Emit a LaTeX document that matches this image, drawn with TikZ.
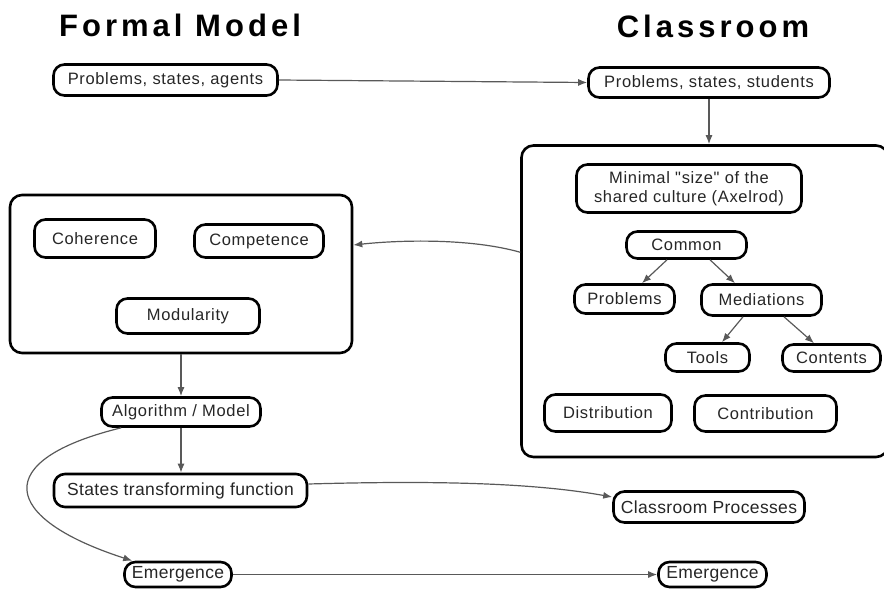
\documentclass[tikz,border=0pt]{standalone}
\usepackage{fontspec}
\setmainfont{Liberation Sans}[LetterSpace=4, Ligatures=TeXOff]
\newfontfamily\titlefont{Liberation Sans}[LetterSpace=13]
\newfontfamily\widefont{Liberation Sans}[LetterSpace=2]
\usetikzlibrary{arrows.meta,calc}
\begin{document}
\begin{tikzpicture}[x=1pt,y=-1pt,
  box/.style={draw, line width=2.6pt, rounded corners=11pt, inner sep=0pt,
    font=\fontsize{16.5}{19.5}\selectfont, align=center, fill=white, text=black!85},
  lowbox/.style={box, font=\widefont\fontsize{17.5}{20}\selectfont},
  bigbox/.style={draw, line width=2.6pt, rounded corners=12pt, inner sep=0pt},
  conn/.style={draw=black!65, line width=1.2pt, -{Latex[length=9pt,width=7pt]}},
  ttl/.style={font=\titlefont\bfseries\fontsize{31}{34}\selectfont}]
\useasboundingbox (0,0) rectangle (884,590);

% titles
\node[ttl] (tfm) at (180,25) {Formal Model};
\node[ttl] (tcl) at (713,26) {Classroom};

% big containers
\node[bigbox, minimum width=366.5pt, minimum height=311.5pt] (rbox) at (704.75,301.25) {};
\node[bigbox, minimum width=342pt, minimum height=158pt] (lbox) at (181,274) {};

% top row
\node[box, minimum width=224pt, minimum height=31pt] (pa) at (165.5,80) {Problems, states, agents};
\node[box, minimum width=241pt, minimum height=30pt] (ps) at (709,82.5) {Problems, states, students};

% right box content
\node[box, minimum width=225pt, minimum height=48pt] (mini) at (689,188.5) {Minimal "size" of the\\shared culture (Axelrod)};
\node[box, minimum width=120pt, minimum height=27pt] (common) at (686.5,245) {Common};
\node[box, minimum width=100pt, minimum height=29pt] (prob) at (624.5,299) {Problems};
\node[box, minimum width=120pt, minimum height=31pt] (med) at (761.5,300) {Mediations};
\node[box, minimum width=84pt, minimum height=28pt] (tools) at (707.5,357.5) {Tools};
\node[box, minimum width=98pt, minimum height=27pt] (cont) at (831.5,358) {Contents};
\node[box, minimum width=127pt, minimum height=37pt] (distr) at (608,413) {Distribution};
\node[box, minimum width=142pt, minimum height=36pt] (contr) at (765.5,413.5) {Contribution};

% left box content
\node[box, minimum width=121pt, minimum height=38pt] (coh) at (95,238.5) {Coherence};
\node[box, minimum width=129pt, minimum height=33pt] (comp) at (259,241) {Competence};
\node[box, minimum width=143pt, minimum height=35pt] (modu) at (188,316) {Modularity};

% lower left chain
\node[box, minimum width=159pt, minimum height=29pt] (alg) at (181,412) {Algorithm / Model};
\node[lowbox, minimum width=253pt, minimum height=33pt] (stf) at (180.5,490.5) {States transforming function};
\node[lowbox, minimum width=191pt, minimum height=31pt] (cp) at (709,507) {Classroom Processes};
\node[lowbox, minimum width=107pt, minimum height=25pt] (em1) at (178,574.5) {Emergence};
\node[lowbox, minimum width=108pt, minimum height=25pt] (em2) at (712.5,574.5) {Emergence};

% connectors
\draw[conn] (pa.east) -- (ps.west);
\draw[conn] (ps.south) -- (ps.south |- rbox.north);
\draw[conn] ($(common.south)+(-19.5,0)$) -- ($(prob.north)+(17.5,0)$);
\draw[conn] ($(common.south)+(23.5,0)$) -- ($(med.north)+(-26.5,0)$);
\draw[conn] ($(med.south)+(-18.5,0)$) -- ($(tools.north)+(14.5,0)$);
\draw[conn] ($(med.south)+(22.5,0)$) -- ($(cont.north)+(-17.5,0)$);
\draw[conn] ($(rbox.west)+(0,-49)$) .. controls (470,238) and (400,240) .. ($(lbox.east)+(0,-29)$);
\draw[conn] (lbox.south) -- (alg.north);
\draw[conn] (alg.south) -- (alg.south |- stf.north);
\draw[conn] ($(stf.east)+(0,-6.5)$) .. controls (450,480) and (540,484) .. ($(cp.west)+(0,-10)$);
\draw[conn] ($(alg.south west)+(21,0)$) .. controls (-10,460) and (0,518) .. ($(em1.north west)+(9,0)$);
\draw[conn] (em1.east) -- (em2.west);
\end{tikzpicture}
\end{document}
